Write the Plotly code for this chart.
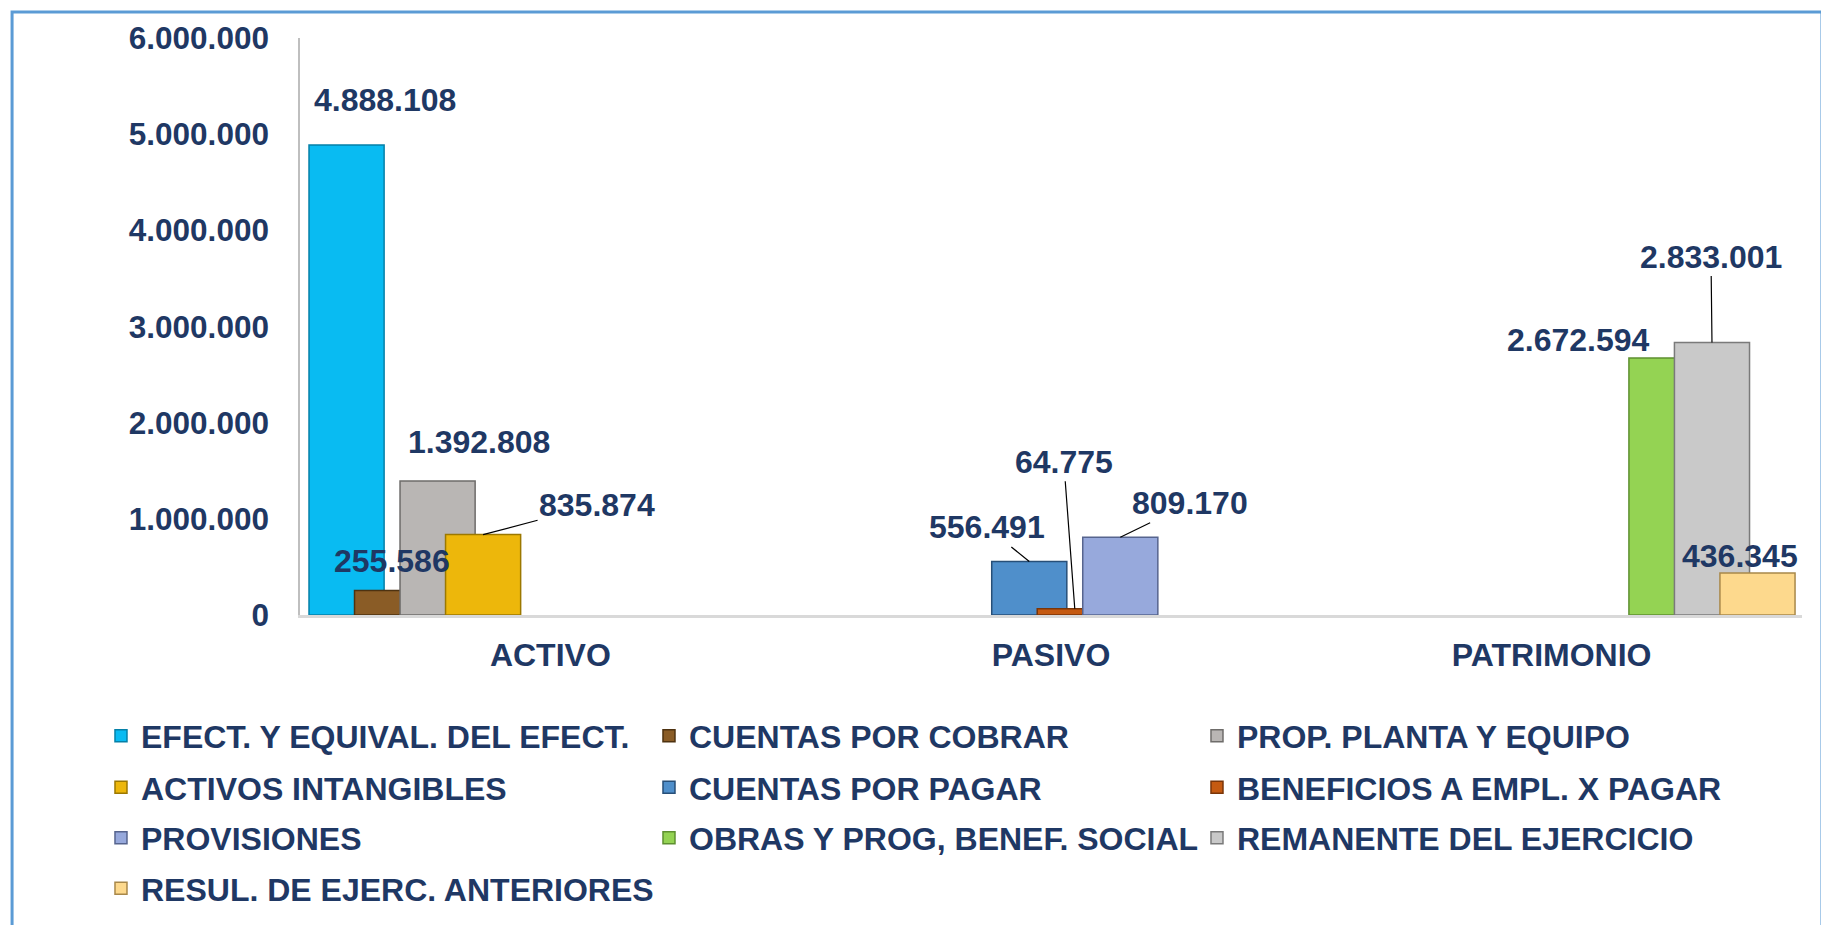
import plotly.graph_objects as go

# ---------------- data ----------------
categories = ["ACTIVO", "PASIVO", "PATRIMONIO"]

series_names = [
    "EFECT. Y EQUIVAL. DEL EFECT.",
    "CUENTAS POR COBRAR",
    "PROP. PLANTA Y EQUIPO",
    "ACTIVOS INTANGIBLES",
    "CUENTAS POR PAGAR",
    "BENEFICIOS A EMPL. X PAGAR",
    "PROVISIONES",
    "OBRAS Y PROG, BENEF. SOCIAL",
    "REMANENTE DEL EJERCICIO",
    "RESUL. DE EJERC. ANTERIORES",
]

efect_equival = [4888108, None, None]
cuentas_cobrar = [255586, None, None]
prop_planta = [1392808, None, None]
activos_intangibles = [835874, None, None]
cuentas_pagar = [None, 556491, None]
beneficios_empl = [None, 64775, None]
provisiones = [None, 809170, None]
obras_prog = [None, None, 2672594]
remanente = [None, None, 2833001]
resul_anteriores = [None, None, 436345]

series_values = [
    efect_equival, cuentas_cobrar, prop_planta, activos_intangibles,
    cuentas_pagar, beneficios_empl, provisiones, obras_prog, remanente,
    resul_anteriores,
]

y_tick_values = [0, 1000000, 2000000, 3000000, 4000000, 5000000, 6000000]

# ---------------- style ----------------
colors = ["#09BBF2", "#8A5C26", "#B9B6B4", "#EDB70B", "#4F8FCB",
          "#C55A11", "#97A9DC", "#94D353", "#C9C9C9", "#FDD98D"]
edge_colors = ["#0580A8", "#4E3210", "#6E6C6A", "#9C7800", "#274F78",
               "#7A3508", "#56648E", "#5E9030", "#7A7A7A", "#A8884A"]

# label offsets in pixels (dx, dy up), leader line flag
label_style = [
    (38, 45, False),
    (0, 29, False),
    (41, 39, False),
    (114, 30, True),
    (-42, 34, True),
    (-11, 147, True),
    (70, 34, True),
    (-88, 18, False),
    (-1, 86, True),
    (-17, 17, False),
]

TEXT = "#1F3864"
FONT = "Liberation Sans, Arial, sans-serif"
OFF0 = -0.482      # group start relative to category centre
PITCH = 0.0909     # slot spacing
BAR_W = 0.15       # bar width (overlapping bars)

legend_rows = [0, 0, 0, 1, 1, 1, 2, 2, 2, 3]
legend_ids = ["legend", "legend2", "legend3", "legend4"]
legend_y = [-0.2096, -0.299, -0.3866, -0.474]
legend_entry_w = [503, 503, 503, 640]


def fmt(v):
    return f"{v:,}".replace(",", ".")


fig = go.Figure()
annotations = []
for i, (name, vals) in enumerate(zip(series_names, series_values)):
    fig.add_trace(go.Bar(
        name=name,
        x=categories,
        y=vals,
        width=BAR_W,
        offset=OFF0 + i * PITCH,
        marker=dict(color=colors[i], line=dict(color=edge_colors[i], width=1.5)),
        legend=legend_ids[legend_rows[i]],
        hoverinfo="x+y+name",
    ))
    for ci, v in enumerate(vals):
        if v is None:
            continue
        xc = ci + OFF0 + i * PITCH + BAR_W / 2
        dx, dy, leader = label_style[i]
        if leader:
            annotations.append(dict(
                x=xc, y=v, xref="x", yref="y", text=fmt(v),
                showarrow=True, arrowhead=0, arrowwidth=1.2, arrowcolor="#000000",
                ax=dx, ay=-dy, axref="pixel", ayref="pixel",
                font=dict(family=FONT, size=32, color=TEXT, weight="bold"),
            ))
        else:
            annotations.append(dict(
                x=xc, y=v, xref="x", yref="y", text=fmt(v),
                showarrow=False, xshift=dx, yshift=dy,
                xanchor="center", yanchor="middle",
                font=dict(family=FONT, size=32, color=TEXT, weight="bold"),
            ))

layout_legends = {}
for k, lid in enumerate(legend_ids):
    layout_legends[lid] = dict(
        orientation="h",
        x=-0.1325, xanchor="left",
        y=legend_y[k], yanchor="middle",
        entrywidth=legend_entry_w[k], entrywidthmode="pixels",
        font=dict(family=FONT, size=32, color=TEXT, weight="bold"),
        bgcolor="rgba(0,0,0,0)",
        itemclick=False, itemdoubleclick=False,
    )

fig.update_layout(
    width=1829, height=925,
    margin=dict(l=292, r=35, t=21, b=318),
    barmode="overlay",
    separators=",.",
    paper_bgcolor="white",
    plot_bgcolor="white",
    showlegend=True,
    annotations=annotations,
    font=dict(family=FONT, color=TEXT),
    shapes=[dict(
        type="rect", xref="paper", yref="paper",
        x0=-0.1917, x1=1.0133, y0=-0.62, y1=1.045,
        line=dict(color="#5B9BD5", width=3), layer="below",
    )],
    **layout_legends,
)

fig.update_yaxes(
    range=[0, 6000000],
    tickvals=y_tick_values,
    tickformat=",d",
    showgrid=False, zeroline=False,
    showline=True, linecolor="#BFBFBF", linewidth=1.5,
    ticks="", ticklabelstandoff=23,
    tickfont=dict(family=FONT, size=31.5, color=TEXT, weight="bold"),
)
fig.update_xaxes(
    showgrid=False,
    showline=True, linecolor="#D9D9D9", linewidth=3,
    ticks="", ticklabelstandoff=10,
    tickfont=dict(family=FONT, size=32, color=TEXT, weight="bold"),
)

fig.write_html("out.html")
